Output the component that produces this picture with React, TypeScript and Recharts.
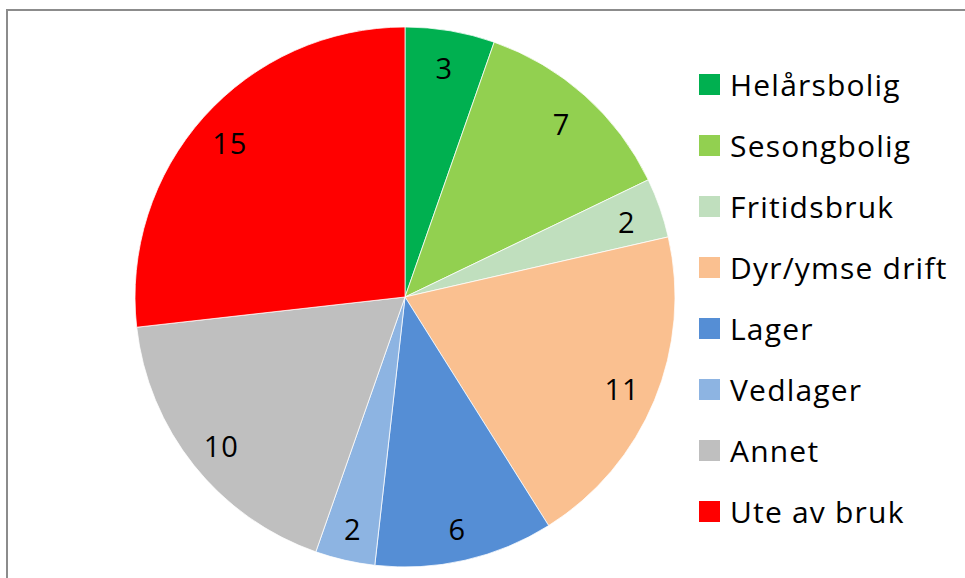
import React from 'react';
import { PieChart, Pie, Cell, Legend } from 'recharts';

const categories = ['Helårsbolig', 'Sesongbolig', 'Fritidsbruk', 'Dyr/ymse drift', 'Lager', 'Vedlager', 'Annet', 'Ute av bruk'];
const values = [3, 7, 2, 11, 6, 2, 10, 15];
const colors = ['#00b050', '#92d050', '#c0dfbe', '#fac090', '#558ed5', '#8db4e2', '#bfbfbf', '#ff0000'];

const data = categories.map((name, i) => ({ name, value: values[i] }));

const FONT = '"Open Sans", Lato, sans-serif';
const RAD = Math.PI / 180;

const renderLabel = (props: any) => {
  const { cx, cy, midAngle, value } = props;
  const r = 235;
  const x = cx + r * Math.cos(-midAngle * RAD);
  const y = cy + r * Math.sin(-midAngle * RAD);
  return (
    <text x={x} y={y + 2} textAnchor="middle" dominantBaseline="central" fill="#000" fontSize={29} letterSpacing={1} fontFamily={FONT}>
      {value}
    </text>
  );
};

const renderLegend = () => (
  <div style={{ position: 'relative', width: 266, height: 500 }}>
    {categories.map((name, i) => (
      <div
        key={name}
        style={{ position: 'absolute', left: 0, top: i * 61, height: 21, display: 'flex', alignItems: 'center', whiteSpace: 'nowrap' }}
      >
        <div style={{ width: 21, height: 21, background: colors[i] }} />
        <span style={{ marginLeft: 10, fontSize: 30, letterSpacing: '1.2px', lineHeight: '21px', fontFamily: FONT, color: '#000' }}>{name}</span>
      </div>
    ))}
  </div>
);

export default function App() {
  return (
    <div style={{ position: 'absolute', left: 0, top: 0, width: 965, height: 578, background: '#fff', overflow: 'hidden' }}>
      <div style={{ position: 'absolute', left: 6, top: 9, width: 980, height: 600, borderTop: '2px solid #8c8c8c', borderLeft: '2px solid #8c8c8c' }} />
      <PieChart width={965} height={578} margin={{ top: 0, right: 0, bottom: 0, left: 0 }} style={{ position: 'absolute', left: 0, top: 0 }}>
        <Pie
          data={data}
          dataKey="value"
          nameKey="name"
          cx={405}
          cy={297}
          outerRadius={270}
          startAngle={90}
          endAngle={-270}
          stroke="#ffffff"
          strokeWidth={0.75}
          label={renderLabel}
          labelLine={false}
          isAnimationActive={false}
        >
          {data.map((d, i) => (
            <Cell key={d.name} fill={colors[i]} />
          ))}
        </Pie>
        <Legend
          layout="vertical"
          content={renderLegend}
          wrapperStyle={{ position: 'absolute', left: 699, top: 74, width: 266, height: 500 }}
        />
      </PieChart>
    </div>
  );
}
